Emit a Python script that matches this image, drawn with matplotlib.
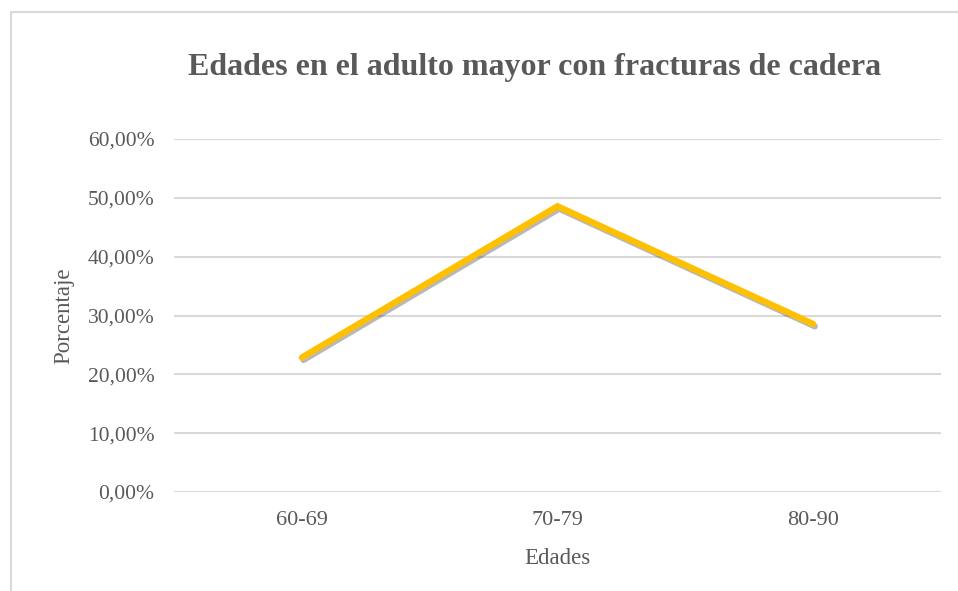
import matplotlib
matplotlib.use("Agg")
import matplotlib.pyplot as plt
import matplotlib.patheffects as pe
from matplotlib.patches import Rectangle
from matplotlib.ticker import FuncFormatter, MultipleLocator

categories = ["60-69", "70-79", "80-90"]
values = [22.86, 48.57, 28.57]

title = "Edades en el adulto mayor con fracturas de cadera"
xlabel = "Edades"
ylabel = "Porcentaje"

plt.rcParams['font.family'] = ['Liberation Serif', 'DejaVu Serif']

fig = plt.figure(figsize=(9.58, 5.91), dpi=100)
fig.patches.append(Rectangle((11/958, -0.05), 1.2, 1 - 12/591 + 0.05, transform=fig.transFigure,
                             fill=False, edgecolor='#D9D9D9', linewidth=1.5, zorder=0))

ax = fig.add_axes([174/958, 1 - 492/591, (941 - 174)/958, (492 - 139)/591])
x = list(range(len(categories)))
ax.plot(x, values, color='#FFC000', linewidth=4.5, solid_capstyle='round', solid_joinstyle='miter',
        path_effects=[pe.SimpleLineShadow(offset=(1.2, -1.8), shadow_color='black', alpha=0.28),
                      pe.Normal()], zorder=3)

ax.set_xlim(-0.5, len(categories) - 0.5)
ax.set_ylim(0, 60)
ax.yaxis.set_major_locator(MultipleLocator(10))
ax.yaxis.set_major_formatter(FuncFormatter(lambda v, p: f"{v:.2f}".replace('.', ',') + "%"))
ax.set_xticks(x)
ax.set_xticklabels(categories)
ax.grid(axis='y', color='#D9D9D9', linewidth=1.5)
ax.set_axisbelow(True)
for s in ax.spines.values():
    s.set_visible(False)
ax.tick_params(axis='both', length=0, labelcolor='#595959')
ax.tick_params(axis='y', pad=14, labelsize=15.5)
ax.tick_params(axis='x', pad=14, labelsize=16)

ax.set_xlabel(xlabel, fontsize=16.5, color='#595959', labelpad=13)
ax.set_ylabel(ylabel, fontsize=16.5, color='#595959', labelpad=10)

fig.text(535/958, 1 - 75/591, title, ha='center', va='baseline', fontsize=23, fontweight='bold', color='#595959')

fig.savefig("out.png", dpi=100, facecolor='white')
